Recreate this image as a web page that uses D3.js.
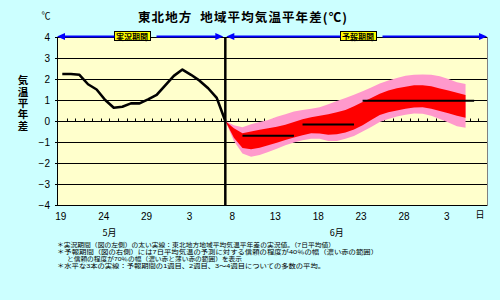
<!DOCTYPE html>
<html>
<head>
<meta charset="utf-8">
<script src="https://cdn.jsdelivr.net/npm/d3@7"></script>
<style>
  body { margin: 0; background: #ccffff; }
  svg { display: block; }
  text { font-family: 'Liberation Sans', Arial, sans-serif; }
  .jp { font-family: 'Noto Sans CJK JP', sans-serif; }
  .note { font-family: 'Liberation Sans', 'Noto Sans CJK JP', sans-serif; }
</style>
</head>
<body>
<svg id="chart" width="500" height="300"></svg>
<script>
const startDate = new Date(2013, 4, 19);
const dayCount = 50;
const xTickLabels = ['19', '24', '29', '3', '8', '13', '18', '23', '28', '3'];
const monthLabels = ['5月', '6月'];
const yTicks = [4, 3, 2, 1, 0, -1, -2, -3, -4];

// 実況 (7日平均) 5/19 - 6/7
const observed = [2.24, 2.24, 2.2, 1.75, 1.5, 1.0, 0.63, 0.68, 0.84, 0.84,
  1.03, 1.24, 1.7, 2.15, 2.45, 2.2, 1.92, 1.56, 1.1, 0.0];

// 予報 6/7 - 7/5
const forecastStart = 19;
const upper70 = [0.0, -0.2, -0.3, -0.15, -0.05, 0.05, 0.2, 0.32, 0.45, 0.52,
  0.58, 0.66, 0.8, 0.95, 1.1, 1.25, 1.42, 1.6, 1.78, 1.93,
  2.05, 2.15, 2.2, 2.22, 2.2, 2.13, 2.0, 1.85, 1.76];
const upper40 = [0.0, -0.35, -0.58, -0.5, -0.42, -0.35, -0.27, -0.18, -0.05, 0.08,
  0.18, 0.25, 0.32, 0.42, 0.52, 0.7, 0.9, 1.1, 1.3, 1.45,
  1.56, 1.63, 1.7, 1.7, 1.65, 1.55, 1.45, 1.35, 1.24];
const lower40 = [0.0, -0.8, -1.28, -1.35, -1.27, -1.15, -1.03, -0.9, -0.78, -0.68,
  -0.58, -0.6, -0.66, -0.63, -0.55, -0.4, -0.2, 0.05, 0.28, 0.42,
  0.5, 0.58, 0.64, 0.65, 0.58, 0.48, 0.37, 0.25, 0.16];
const lower70 = [0.0, -0.95, -1.55, -1.7, -1.62, -1.48, -1.32, -1.15, -1.02, -0.92,
  -0.85, -0.85, -0.95, -0.95, -0.85, -0.72, -0.5, -0.28, -0.05, 0.1,
  0.22, 0.3, 0.36, 0.35, 0.25, 0.1, -0.07, -0.25, -0.32];

const weekMeans = [-0.7, -0.17, 0.97];
const weekSpans = [[21, 27], [28, 34], [35, 48]];

const periodLabels = ['実況期間', '予報期間'];
const notes = [
  '＊実況期間（図の左側）の太い実線：東北地方地域平均気温平年差の実況値。（7日平均値）',
  '＊予報期間（図の右側）には7日平均気温の予測に対する信頼の程度が40％の幅（濃い赤の範囲）',
  'と信頼の程度が70％の幅（濃い赤と薄い赤の範囲）を表示',
  '＊水平な3本の実線：予報期間の1週目、2週目、3～4週目についての多数の平均。'
];

const svg = d3.select('#chart');
const plotLeft = 58, plotRight = 487, plotTop = 37, plotBottom = 205;

let days = d3.timeDay.range(startDate, d3.timeDay.offset(startDate, dayCount));
let x = d3.scaleBand().domain(d3.range(days.length)).range([plotLeft, plotRight]);
let cx = (i) => x(i) + x.bandwidth() / 2;
let y = d3.scaleLinear().domain([-4, 4]).range([plotBottom, plotTop]);
let crisp = (v) => Math.round(v) + 0.5;

svg.append('rect').attr('width', 500).attr('height', 300).attr('fill', '#ccffff');
svg.append('rect')
  .attr('x', plotLeft).attr('y', plotTop)
  .attr('width', plotRight - plotLeft).attr('height', plotBottom - plotTop)
  .attr('fill', '#ffffcc');

// grid
svg.append('g').selectAll('line')
  .data(yTicks)
  .enter().append('line')
  .attr('x1', plotLeft).attr('x2', plotRight)
  .attr('y1', d => crisp(y(d))).attr('y2', d => crisp(y(d)))
  .attr('stroke', '#000').attr('stroke-width', 1);

// zero axis ticks
svg.append('g').selectAll('line')
  .data(d3.range(1, days.length))
  .enter().append('line')
  .attr('x1', d => crisp(x(d))).attr('x2', d => crisp(x(d)))
  .attr('y1', y(0) - 2.5).attr('y2', y(0) + 0.5)
  .attr('stroke', '#000').attr('stroke-width', 1);

// forecast bands
let band = upper70.map((u, k) => ({
  i: forecastStart + k, u70: u, u40: upper40[k], l40: lower40[k], l70: lower70[k]
}));
svg.append('path')
  .datum(band)
  .attr('fill', '#ff99cc')
  .attr('d', d3.area().x(d => cx(d.i)).y0(d => y(d.l70)).y1(d => y(d.u70)));
svg.append('path')
  .datum(band)
  .attr('fill', '#ff0000')
  .attr('d', d3.area().x(d => cx(d.i)).y0(d => y(d.l40)).y1(d => y(d.u40)));

// weekly means
svg.append('g').selectAll('line')
  .data(weekMeans)
  .enter().append('line')
  .attr('x1', (d, k) => cx(weekSpans[k][0]))
  .attr('x2', (d, k) => cx(weekSpans[k][1]))
  .attr('y1', d => y(d)).attr('y2', d => y(d))
  .attr('stroke', '#000').attr('stroke-width', 2);

// observed
svg.append('path')
  .datum(observed)
  .attr('fill', 'none')
  .attr('stroke', '#000')
  .attr('stroke-width', 2.6)
  .attr('stroke-linejoin', 'round')
  .attr('d', d3.line().x((d, i) => cx(i)).y(d => y(d)));

// split line
svg.append('line')
  .attr('x1', cx(forecastStart)).attr('x2', cx(forecastStart))
  .attr('y1', plotTop).attr('y2', plotBottom)
  .attr('stroke', '#000').attr('stroke-width', 2.5);

// frame
svg.append('line')
  .attr('x1', plotRight + 0.5).attr('x2', plotRight + 0.5)
  .attr('y1', plotTop).attr('y2', plotBottom + 1)
  .attr('stroke', '#808080');
svg.append('line')
  .attr('x1', plotLeft - 0.5).attr('x2', plotLeft - 0.5)
  .attr('y1', plotTop).attr('y2', plotBottom + 1)
  .attr('stroke', '#000');
svg.append('g').selectAll('line')
  .data(yTicks)
  .enter().append('line')
  .attr('x1', plotLeft - 3).attr('x2', plotLeft)
  .attr('y1', d => crisp(y(d))).attr('y2', d => crisp(y(d)))
  .attr('stroke', '#000');

// y labels
svg.append('g').selectAll('text')
  .data(yTicks)
  .enter().append('text')
  .attr('x', 50).attr('y', d => y(d) + 3.5)
  .attr('text-anchor', 'end')
  .attr('font-size', 10)
  .text(d => d < 0 ? '−' + Math.abs(d) : d);
svg.append('text')
  .attr('x', 46).attr('y', 19)
  .attr('text-anchor', 'middle')
  .attr('font-size', 9)
  .attr('class', 'jp')
  .text('℃');
svg.append('text')
  .attr('class', 'jp')
  .attr('transform', 'translate(23,75)')
  .attr('font-size', 10.5)
  .attr('font-weight', 'bold')
  .attr('writing-mode', 'tb')
  .attr('textLength', 56)
  .attr('lengthAdjust', 'spacing')
  .text('気温平年差');

// x labels
svg.append('g').selectAll('text')
  .data(xTickLabels)
  .enter().append('text')
  .attr('x', (d, k) => cx(k * 5) - 1.5)
  .attr('y', 220)
  .attr('text-anchor', 'middle')
  .attr('font-size', 10)
  .text(d => d);
svg.append('text')
  .attr('class', 'jp')
  .attr('x', 480).attr('y', 218)
  .attr('text-anchor', 'middle')
  .attr('font-size', 9)
  .text('日');
svg.append('g').selectAll('text')
  .data(monthLabels)
  .enter().append('text')
  .attr('class', 'jp')
  .attr('x', (d, k) => k === 0 ? x(6) : cx(32))
  .attr('y', 236)
  .attr('text-anchor', 'middle')
  .attr('font-size', 9)
  .text(d => d);

// period arrows
const drawPeriod = (x1, x2, boxCenter, label) => {
  let g = svg.append('g');
  let ay = plotTop - 0.5;
  let txt = g.append('text')
    .attr('class', 'jp')
    .attr('x', boxCenter).attr('y', ay + 3)
    .attr('text-anchor', 'middle')
    .attr('font-size', 8)
    .attr('font-weight', 'bold')
    .text(label);
  let bb = txt.node().getBBox();
  let bl = Math.round(boxCenter - bb.width / 2 - 2) + 0.5;
  let br = Math.round(boxCenter + bb.width / 2 + 2) + 0.5;
  g.insert('rect', 'text')
    .attr('x', bl).attr('y', ay - 5)
    .attr('width', br - bl).attr('height', 9)
    .attr('fill', '#ffff00').attr('stroke', '#000');
  g.append('line')
    .attr('x1', x1 + 4).attr('x2', bl)
    .attr('y1', ay).attr('y2', ay)
    .attr('stroke', '#0000ff').attr('stroke-width', 2);
  g.append('line')
    .attr('x1', br + 6).attr('x2', x2 - 4)
    .attr('y1', ay).attr('y2', ay)
    .attr('stroke', '#0000ff').attr('stroke-width', 2);
  g.append('path')
    .attr('d', `M${x1},${ay}L${x1 + 8},${ay - 3.5}L${x1 + 8},${ay + 3.5}Z`)
    .attr('fill', '#0000ff');
  g.append('path')
    .attr('d', `M${x2},${ay}L${x2 - 8},${ay - 3.5}L${x2 - 8},${ay + 3.5}Z`)
    .attr('fill', '#0000ff');
};
drawPeriod(plotLeft - 1, cx(forecastStart) - 2, 132, periodLabels[0]);
drawPeriod(cx(forecastStart) + 1, plotRight, 358, periodLabels[1]);

// title
svg.append('text')
  .attr('class', 'jp')
  .attr('x', 138).attr('y', 22)
  .attr('font-size', 12.5)
  .attr('font-weight', 'bold')
  .attr('textLength', 209)
  .attr('lengthAdjust', 'spacing')
  .style('white-space', 'pre')
  .text('東北地方  地域平均気温平年差(℃)');

// notes
const noteLayout = [[57, 247, 278], [57, 254, 321], [67, 261, 175], [57, 268, 268]];
svg.append('g').selectAll('text')
  .data(notes)
  .enter().append('text')
  .attr('class', 'note')
  .attr('x', (d, k) => noteLayout[k][0])
  .attr('y', (d, k) => noteLayout[k][1])
  .attr('textLength', (d, k) => noteLayout[k][2])
  .attr('lengthAdjust', 'spacingAndGlyphs')
  .attr('font-size', 6.2)
  .text(d => d);
</script>
</body>
</html>
